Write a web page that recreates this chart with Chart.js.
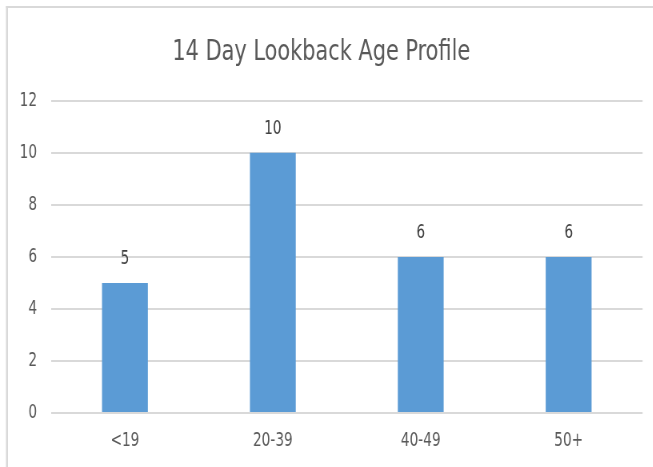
<!DOCTYPE html>
<html>
<head>
<meta charset="utf-8">
<script src="https://cdn.jsdelivr.net/npm/chart.js@4"></script>
<style>
  html, body { margin: 0; padding: 0; background: #fff; overflow: hidden; width: 653px; height: 467px; }
  #wrap { position: absolute; left: 0; top: 0; width: 817px; height: 467px; transform: scaleX(0.8); transform-origin: 0 0; }
</style>
</head>
<body>
<div id="wrap"><canvas id="c" width="817" height="467" style="width:817px;height:467px"></canvas></div>
<script>
const chartTitle = '14 Day Lookback Age Profile';
const categories = ['<19', '20-39', '40-49', '50+'];
const counts = [5, 10, 6, 6];
const yTicks = [0, 2, 4, 6, 8, 10, 12];

const FONT = "'Liberation Sans Narrow', 'DejaVu Sans Condensed', 'Arial Narrow', 'Liberation Sans', sans-serif";
const SX = 1 / 0.8; // horizontal compensation for the scaleX(0.8) wrapper

const frame = {
  id: 'frame',
  beforeDraw(chart) {
    const ctx = chart.ctx;
    ctx.save();
    ctx.fillStyle = '#d9d9d9';
    ctx.fillRect(6 * SX, 6, 2 * SX, 470);
    ctx.fillRect(6 * SX, 6, 900, 2);
    ctx.restore();
  }
};

const valueLabels = {
  id: 'valueLabels',
  afterDatasetsDraw(chart) {
    const ctx = chart.ctx;
    ctx.save();
    ctx.fillStyle = '#404040';
    ctx.font = '19px ' + FONT;
    ctx.textAlign = 'center';
    ctx.textBaseline = 'middle';
    const meta = chart.getDatasetMeta(0);
    meta.data.forEach((bar, i) => {
      ctx.fillText(String(chart.data.datasets[0].data[i]), bar.x, bar.y - 24);
    });
    ctx.restore();
  }
};

new Chart(document.getElementById('c'), {
  type: 'bar',
  data: {
    labels: categories,
    datasets: [{
      data: counts,
      backgroundColor: '#5B9BD5',
      borderWidth: 0,
      categoryPercentage: 1,
      barPercentage: 0.31
    }]
  },
  options: {
    responsive: false,
    animation: false,
    devicePixelRatio: 1,
    layout: { padding: { left: 0, right: 11 * SX, top: 30, bottom: 0 } },
    plugins: {
      legend: { display: false },
      tooltip: { enabled: false },
      title: {
        display: true,
        text: chartTitle,
        color: '#595959',
        font: { family: FONT, size: 29, weight: 'normal' },
        padding: { top: 5, bottom: 31 }
      }
    },
    scales: {
      x: {
        grid: { display: false, drawTicks: false },
        border: { display: false },
        ticks: { color: '#595959', font: { family: FONT, size: 19 }, padding: 17 },
        afterFit(scale) { scale.height = 54; }
      },
      y: {
        min: 0,
        max: 12,
        afterBuildTicks(scale) { scale.ticks = yTicks.map(v => ({ value: v })); },
        grid: { color: '#d9d9d9', lineWidth: 2, drawTicks: false },
        border: { display: false },
        ticks: { color: '#595959', font: { family: FONT, size: 19 }, padding: 14 * SX },
        afterFit(scale) { scale.width = 51 * SX; }
      }
    }
  },
  plugins: [frame, valueLabels]
});
</script>
</body>
</html>
